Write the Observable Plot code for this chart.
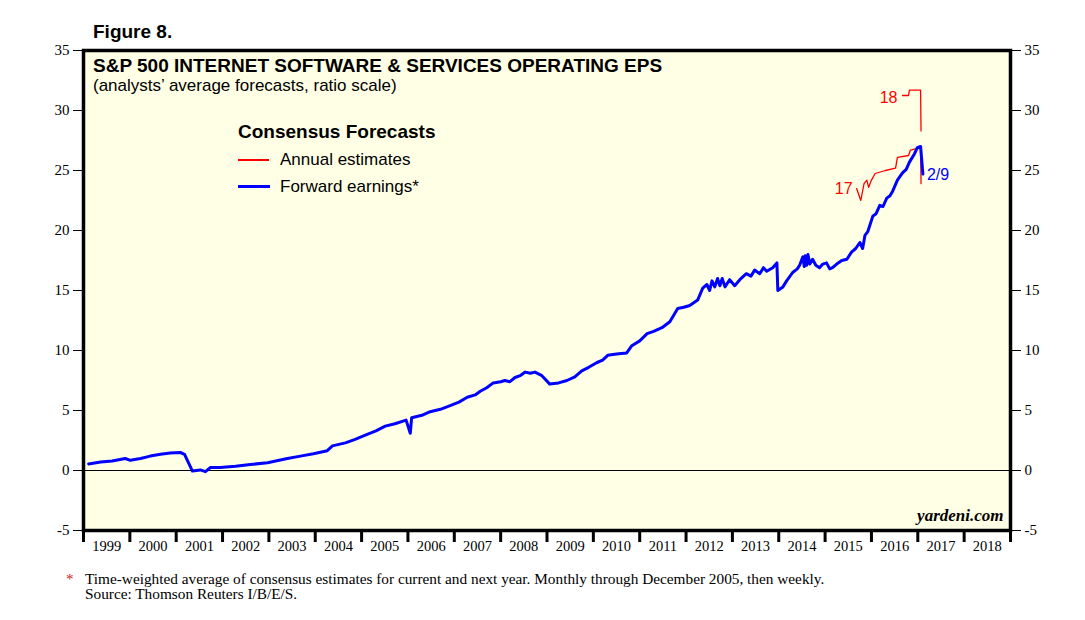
<!DOCTYPE html>
<html>
<head>
<meta charset="utf-8">
<script src="https://cdn.jsdelivr.net/npm/d3@7"></script>
<script src="https://cdn.jsdelivr.net/npm/@observablehq/plot@0.6"></script>
<style>
  html, body { margin: 0; padding: 0; background: #ffffff; }
  #wrap { position: relative; width: 1085px; height: 620px; }
  .ov { position: absolute; white-space: nowrap; }
  .sans { font-family: "Liberation Sans", Arial, sans-serif; }
  .serif { font-family: "Liberation Serif", "Times New Roman", serif; }
</style>
</head>
<body>
<div id="wrap">
  <div id="chart"></div>
  <div class="ov sans" style="left:93px; top:22px; font-size:19px; line-height:19px; font-weight:bold;">Figure 8.</div>
  <div class="ov sans" style="left:93px; top:56px; font-size:19px; line-height:19px; font-weight:bold;">S&amp;P 500 INTERNET SOFTWARE &amp; SERVICES OPERATING EPS</div>
  <div class="ov sans" style="left:93px; top:77px; font-size:17px; line-height:17px;">(analysts’ average forecasts, ratio scale)</div>
  <div class="ov sans" style="left:238px; top:122px; font-size:19px; line-height:19px; font-weight:bold;">Consensus Forecasts</div>
  <div class="ov" style="left:238px; top:159px; width:31px; height:1.5px; background:#ff0000;"></div>
  <div class="ov sans" style="left:280px; top:151px; font-size:17px; line-height:17px;">Annual estimates</div>
  <div class="ov" style="left:238px; top:185px; width:32px; height:3px; background:#0000ff;"></div>
  <div class="ov sans" style="left:280px; top:178px; font-size:17px; line-height:17px;">Forward earnings*</div>
  <div class="ov serif" style="left:66px; top:572px; font-size:15px; line-height:15px; color:#cc2222;">*</div>
  <div class="ov serif" style="left:85px; top:571px; font-size:15.3px; line-height:15px;">Time-weighted average of consensus estimates for current and next year. Monthly through December 2005, then weekly.<br>Source: Thomson Reuters I/B/E/S.</div>
</div>
<script>
// ---- Data (decimal years, EPS in dollars) ----
const fwdT = [1999.11,1999.37,1999.62,1999.9,2000.01,2000.23,2000.44,2000.66,2000.87,2001.09,2001.18,2001.35,2001.52,2001.63,2001.74,2001.95,2002.28,2002.6,2002.97,2003.4,2003.68,2003.96,2004.26,2004.37,2004.65,2004.86,2005.08,2005.31,2005.51,2005.72,2005.96,2006.05,2006.08,2006.3,2006.48,2006.7,2006.91,2007.1,2007.28,2007.45,2007.56,2007.7,2007.84,2008.0,2008.09,2008.2,2008.31,2008.42,2008.53,2008.64,2008.74,2008.89,2009.06,2009.25,2009.43,2009.6,2009.75,2009.9,2010.08,2010.2,2010.31,2010.5,2010.72,2010.83,2011.0,2011.16,2011.3,2011.48,2011.65,2011.82,2011.95,2012.08,2012.25,2012.36,2012.45,2012.51,2012.56,2012.62,2012.68,2012.73,2012.78,2012.84,2012.94,2013.05,2013.16,2013.3,2013.4,2013.48,2013.59,2013.67,2013.74,2013.87,2013.96,2013.98,2014.09,2014.17,2014.3,2014.4,2014.45,2014.52,2014.55,2014.57,2014.6,2014.63,2014.67,2014.73,2014.8,2014.88,2014.95,2015.03,2015.1,2015.16,2015.25,2015.36,2015.47,2015.57,2015.66,2015.75,2015.81,2015.86,2015.92,2016.03,2016.1,2016.18,2016.25,2016.33,2016.4,2016.46,2016.56,2016.67,2016.75,2016.82,2016.93,2016.99,2017.06,2017.11];
const fwdV = [0.55,0.7,0.8,1.0,0.85,1.0,1.2,1.35,1.45,1.5,1.35,-0.05,0.05,-0.1,0.25,0.25,0.35,0.5,0.65,1.0,1.2,1.4,1.65,2.05,2.3,2.6,2.95,3.3,3.7,3.9,4.2,3.1,4.4,4.6,4.9,5.1,5.4,5.7,6.1,6.3,6.6,6.9,7.3,7.4,7.5,7.4,7.75,7.9,8.2,8.1,8.2,7.9,7.2,7.3,7.5,7.8,8.3,8.6,9.0,9.2,9.6,9.7,9.8,10.4,10.8,11.4,11.6,11.9,12.4,13.5,13.6,13.75,14.2,15.2,15.5,15.0,15.8,15.3,16.0,15.4,16.0,15.3,15.9,15.4,15.9,16.4,16.2,16.7,16.4,16.9,16.6,16.9,17.3,15.0,15.3,15.8,16.5,16.8,17.1,17.8,17.0,17.9,17.1,18.0,17.2,17.6,17.1,16.9,17.2,17.3,16.8,16.9,17.2,17.5,17.6,18.2,18.5,19.0,18.5,19.6,19.9,21.2,21.4,22.1,22.0,22.7,22.9,23.3,24.2,24.8,25.1,25.7,26.4,26.9,27.0,24.7];

const est17T = [2015.68,2015.77,2015.84,2015.9,2015.94,2016.0,2016.08,2016.3,2016.52,2016.56,2016.8,2016.84,2017.06,2017.07];
const est17V = [23.5,22.5,23.9,24.2,23.6,24.2,24.75,25.0,25.2,26.1,26.25,26.7,26.9,23.9];

const est18T = [2016.67,2016.8,2016.82,2017.06,2017.07];
const est18V = [31.25,31.25,31.7,31.7,28.3];

const yTicks = [-5,0,5,10,15,20,25,30,35];
const yearBounds = d3.range(1999, 2020);
const yearMids = d3.range(1999, 2019).map(y => y + 0.5);

const fwd = fwdT.map((t, i) => ({t, v: fwdV[i]}));
const e17 = est17T.map((t, i) => ({t, v: est17V[i]}));
const e18 = est18T.map((t, i) => ({t, v: est18V[i]}));

const serif = "'Liberation Serif', 'Times New Roman', serif";
const sans = "'Liberation Sans', Arial, sans-serif";

const chart = Plot.plot({
  width: 1085,
  height: 620,
  marginLeft: 83,
  marginRight: 75,
  marginTop: 50,
  marginBottom: 90,
  style: {background: "transparent", fontFamily: serif, fontSize: "14px", color: "black"},
  x: {domain: [1999, 2019], axis: null},
  y: {domain: [-5, 35], axis: null},
  marks: [
    Plot.frame({fill: "#ffffe6"}),
    Plot.ruleY([0], {stroke: "black", strokeWidth: 1}),
    Plot.axisY({ticks: yTicks, anchor: "left", tickSize: 10, tickPadding: 4, fontSize: 15, fontFamily: serif, label: null, tickFormat: d => d}),
    Plot.axisY({ticks: yTicks, anchor: "right", tickSize: 10, tickPadding: 4, fontSize: 15, fontFamily: serif, label: null, tickFormat: d => d}),
    Plot.axisX({ticks: yearBounds, anchor: "bottom", tickSize: 12, strokeWidth: 3, tickFormat: () => "", label: null}),
    Plot.axisX({ticks: yearMids, anchor: "bottom", tickSize: 0, tickPadding: 10, fontSize: 14.5, fontFamily: serif, tickFormat: d => String(Math.floor(d)), label: null}),
    Plot.line(e17, {x: "t", y: "v", stroke: "#ff0000", strokeWidth: 1.3}),
    Plot.line(e18, {x: "t", y: "v", stroke: "#ff0000", strokeWidth: 1.3}),
    Plot.line(fwd, {x: "t", y: "v", stroke: "#0000ff", strokeWidth: 3}),
    Plot.text(e17.slice(0, 1), {x: "t", y: "v", text: () => "17", textAnchor: "end", dx: -4, fill: "#ff0000", fontSize: 16, fontFamily: sans}),
    Plot.text(e18.slice(0, 1), {x: "t", y: "v", text: () => "18", textAnchor: "end", dx: -5, dy: 2, fill: "#ff0000", fontSize: 16, fontFamily: sans}),
    Plot.text(fwd.slice(-1), {x: "t", y: "v", text: () => "2/9", textAnchor: "start", dx: 4, dy: 1, fill: "#0000ff", fontSize: 16, fontFamily: sans}),
    Plot.text(["yardeni.com"], {frameAnchor: "bottom-right", dx: -7, dy: -10, text: d => d, fontSize: 17, fontStyle: "italic", fontWeight: "bold", fontFamily: serif, fill: "black"}),
    Plot.frame({stroke: "black", strokeWidth: 3.5})
  ]
});
document.getElementById("chart").appendChild(chart);
</script>
</body>
</html>
